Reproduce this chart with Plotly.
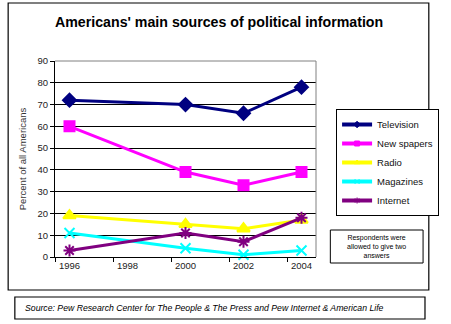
import plotly.graph_objects as go

# Survey years and shares of respondents naming each source (%)
years = [1996, 2000, 2002, 2004]
television = [72, 70, 66, 78]
newspapers = [60, 39, 33, 39]
radio = [19, 15, 13, 17]
magazines = [11, 4, 1, 3]
internet = [3, 11, 7, 18]

tick_years = [1996, 1998, 2000, 2002, 2004]
y_ticks = list(range(0, 100, 10))

W, H = 451, 324
# plot area in pixels
PL, PR, PT, PB = 55, 328, 61, 257


def px(x):
    return (x - PL) / (PR - PL)


def py(y):
    return (PB - y) / (PB - PT)


series = [
    ("Television", television, "#000080", "diamond", 10),
    ("New spapers", newspapers, "#FF00FF", "square", 10),
    ("Radio", radio, "#FFFF00", "triangle-up", 11),
    ("Magazines", magazines, "#00FFFF", "x-thin-open", 10),
    ("Internet", internet, "#800080", "asterisk-open", 10),
]

fig = go.Figure()
for name, vals, color, sym, size in series:
    fig.add_trace(go.Scatter(
        x=years, y=vals, name=name, mode="lines+markers",
        line=dict(color=color, width=3),
        marker=dict(symbol=sym, size=size, color=color,
                    line=dict(color=color, width=2)),
        cliponaxis=False, showlegend=False, legendgroup=name,
    ))
# legend keys with small markers, as in the spreadsheet style
for name, vals, color, sym, size in series:
    fig.add_trace(go.Scatter(
        x=[None], y=[None], name=name, mode="lines+markers",
        line=dict(color=color, width=4),
        marker=dict(symbol=sym, size=5, color=color,
                    line=dict(color=color, width=1)),
        legendgroup=name,
    ))

font = "Liberation Sans, Arial, sans-serif"

fig.update_layout(
    width=W, height=H,
    margin=dict(l=PL, r=W - PR, t=PT, b=H - PB),
    paper_bgcolor="white", plot_bgcolor="white",
    font=dict(family=font, size=9, color="#222"),
    showlegend=True,
    legend=dict(
        x=px(349), y=py(109), xanchor="left", yanchor="top",
        bordercolor="black", borderwidth=1, bgcolor="white",
        font=dict(size=9.5, color="#111"),
        itemwidth=30, tracegroupgap=0,
    ),
    xaxis=dict(
        range=[1995.5, 2004.5], tickvals=tick_years,
        ticktext=[str(t) for t in tick_years],
        ticks="", showgrid=False, zeroline=False,
        showline=True, linecolor="black", linewidth=1,
        tickfont=dict(size=9.5, color="#222"),
        minor=dict(tickvals=[1995.5, 1997.5, 1999.5, 2001.5, 2003.5],
                   ticks="outside", ticklen=4, tickcolor="black", showgrid=False),
    ),
    yaxis=dict(
        range=[0, 90], tickvals=y_ticks, ticks="outside", ticklen=4,
        tickcolor="black", showgrid=True, gridcolor="black", gridwidth=1,
        zeroline=False, showline=True, linecolor="black", linewidth=1,
        tickfont=dict(size=9.5, color="#222"),
        title=dict(text="Percent of all Americans", standoff=9,
                   font=dict(size=9.5, color="#333")),
    ),
    shapes=[
        # outer chart frame
        dict(type="rect", xref="paper", yref="paper",
             x0=px(6), x1=px(446), y0=py(3), y1=py(290),
             line=dict(color="black", width=1.2), layer="below"),
        # plot area border (top and right)
        dict(type="line", xref="paper", yref="paper",
             x0=0, x1=1, y0=1, y1=1, line=dict(color="#808080", width=1)),
        dict(type="line", xref="paper", yref="paper",
             x0=1, x1=1, y0=0, y1=1, line=dict(color="#808080", width=1)),
        # note box
        dict(type="rect", xref="paper", yref="paper",
             x0=px(343), x1=px(440), y0=py(230), y1=py(263),
             line=dict(color="black", width=1)),
        # source box
        dict(type="rect", xref="paper", yref="paper",
             x0=px(13), x1=px(442), y0=py(297), y1=py(319),
             line=dict(color="black", width=1.2)),
    ],
    annotations=[
        dict(text="<b>Americans' main sources of political information</b>",
             xref="paper", yref="paper", x=px(227), y=py(22),
             xanchor="center", yanchor="middle", showarrow=False,
             font=dict(size=14.2, color="black", family=font)),
        dict(text="Respondents were<br>allowed to give two<br>answers",
             xref="paper", yref="paper", x=px(391.5), y=py(246.5),
             xanchor="center", yanchor="middle", showarrow=False,
             font=dict(size=7, color="black", family=font)),
        dict(text="<i>Source: Pew Research Center for The People &amp; The Press and Pew Internet &amp; American Life</i>",
             xref="paper", yref="paper", x=px(22), y=py(308),
             xanchor="left", yanchor="middle", showarrow=False,
             font=dict(size=8.7, color="black", family=font)),
    ],
)

fig.write_html("out.html")
